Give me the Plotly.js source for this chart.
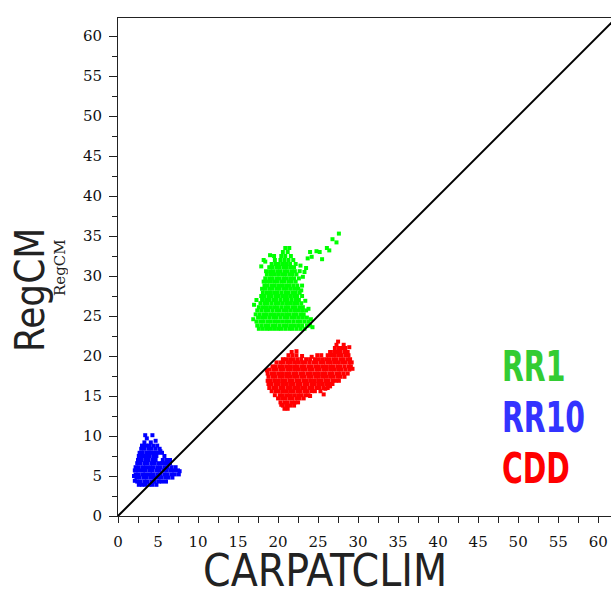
<!DOCTYPE html>
<html><head><meta charset="utf-8">
<script src="https://cdn.plot.ly/plotly-3.0.1.min.js"></script>
<style>html,body{margin:0;padding:0;background:#fff}#chart{width:611px;height:592px}</style>
</head><body><div id="chart"></div>
<script>
const tickVals = [0,5,10,15,20,25,30,35,40,45,50,55,60];
const tickText = ["0","5","10","15","20","25","30","35","40","45","50","55","60"];
const diagX = [0, 62];
const diagY = [0, 62];

// RR1 (green) points, by row: y value and the x values in that row
const rr1RowY = [23.4,23.8,24.3,24.8,25.2,25.7,26.1,26.6,27.0,27.5,27.9,28.4,28.8,29.3,29.7,30.2,30.6,31.1,31.5,32.0,32.5,33.0,33.5];
const rr1RowX = [
 [17.6,18.1,18.6,19.0,19.5,20.0,20.4,20.9,21.4,21.8,22.3,22.8,23.3],
 [17.4,17.9,18.4,18.8,19.3,19.7,20.2,20.7,21.1,21.6,22.0,22.5,23.0,23.6,24.0],
 [17.3,17.8,18.2,18.7,19.1,19.6,20.0,20.5,21.0,21.4,21.9,22.4,22.8,23.3,23.8],
 [17.5,18.0,18.4,18.9,19.4,19.8,20.3,20.8,21.2,21.7,22.1,22.6,23.1,23.6],
 [17.2,17.7,18.2,18.6,19.1,19.5,20.0,20.5,21.0,21.4,21.9,22.3,22.8,23.2],
 [17.4,17.9,18.4,18.8,19.3,19.8,20.2,20.7,21.1,21.6,22.1,22.5,23.0,23.5],
 [17.6,18.1,18.5,19.0,19.5,19.9,20.4,20.9,21.3,21.8,22.2,22.7,23.1],
 [17.8,18.3,18.7,19.2,19.7,20.1,20.6,21.1,21.5,22.0,22.4,22.9],
 [17.3,18.0,18.5,18.9,19.4,19.8,20.3,20.8,21.2,21.7,22.2,22.6],
 [17.9,18.3,18.8,19.2,19.7,20.1,20.6,21.0,21.5,22.0,22.4,23.0],
 [18.1,18.6,19.0,19.5,19.9,20.4,20.9,21.3,21.8,22.2,22.7],
 [18.0,18.4,18.9,19.3,19.8,20.2,20.7,21.1,21.6,22.1,22.5],
 [18.3,18.7,19.2,19.6,20.1,20.5,21.0,21.4,21.9,22.4,23.0],
 [18.2,18.6,19.0,19.5,19.9,20.4,20.8,21.3,21.7,22.2],
 [18.4,18.9,19.3,19.8,20.2,20.7,21.1,21.6,22.0,22.6],
 [18.6,19.1,19.5,20.0,20.5,20.9,21.4,21.8,22.3],
 [18.5,19.0,19.4,19.9,20.3,20.8,21.2,21.7,22.1],
 [18.9,19.3,19.8,20.2,20.7,21.1,21.6,22.0],
 [19.2,19.7,20.1,20.6,21.0,21.5,22.2],
 [18.2,19.6,20.3,20.8,21.3,21.9],
 [19.5,20.4,20.9,21.6],
 [20.6,21.2],
 [20.9,21.4]
];
const rr1ExtraX = [23.1,23.3,23.7,24.2,24.8,25.2,25.5,26.1,26.4,26.8,27.3,27.6,22.8,23.5,24.0,17.9,18.4,22.7,23.4,23.8,24.1,22.9,17.0,16.9,19.0,24.3];
const rr1ExtraY = [29.9,30.5,32.2,32.4,33.1,33.0,32.1,33.5,33.2,34.6,34.2,35.3,31.3,31.0,33.0,31.2,31.8,30.6,26.9,25.9,24.6,28.2,26.4,24.6,32.6,23.6];

// RR10 (blue)
const rr10RowY = [3.9,4.3,4.8,5.2,5.7,6.1,6.6,7.0,7.5,7.9,8.4,8.8,9.2,9.7,10.1];
const rr10RowX = [
 [2.6,3.0,3.4,3.9,4.3,4.8],
 [2.4,2.8,3.3,3.7,4.2,4.6,5.1,5.5,6.0],
 [2.3,2.7,3.2,3.6,4.1,4.5,5.0,5.4,5.9,6.3,6.8],
 [2.2,2.6,3.1,3.5,4.0,4.4,4.9,5.3,5.8,6.2,6.7,7.1,7.6],
 [2.1,2.5,3.0,3.4,3.9,4.3,4.8,5.2,5.7,6.1,6.6,7.0,7.5],
 [2.2,2.6,3.1,3.5,4.0,4.4,4.9,5.3,5.8,6.2,6.7,7.2],
 [2.4,2.8,3.3,3.7,4.2,4.6,5.1,5.5,6.0,6.5],
 [2.5,2.9,3.4,3.8,4.3,4.7,5.6,6.1],
 [2.6,3.0,3.5,3.9,4.4,4.8,5.8],
 [2.7,3.1,3.6,4.0,4.5,5.0,5.5],
 [2.9,3.3,3.8,4.2,4.7,5.2],
 [3.0,3.5,3.9,4.4,4.9],
 [3.3,4.1],
 [3.6],
 [3.4,4.3]
];
const rr10ExtraX = [2.0,2.1,4.7,5.3,6.5,7.7];
const rr10ExtraY = [5.0,4.4,9.4,8.1,7.0,5.6];

// CDD (red)
const cddRowY = [13.4,13.8,14.2,14.7,15.1,15.6,16.0,16.5,16.9,17.4,17.8,18.3,18.7,19.2,19.6,20.1,20.5,21.0,21.4];
const cddRowX = [
 [20.8,21.2],
 [20.6,21.1,21.5,22.0],
 [20.3,20.8,21.2,21.7,22.1,22.5],
 [20.0,20.5,20.9,21.4,21.8,22.3,22.7,23.2],
 [19.6,20.2,20.6,21.1,21.5,22.0,22.5,22.9,23.4,23.8],
 [19.2,19.7,20.1,20.6,21.0,21.5,21.9,22.4,22.8,23.3,23.7,24.2,24.6,25.3],
 [18.9,19.4,19.8,20.3,20.7,21.2,21.6,22.1,22.5,23.0,23.4,23.9,24.3,24.8,25.2,25.7,26.2],
 [18.8,19.2,19.7,20.1,20.6,21.0,21.5,21.9,22.4,22.8,23.3,23.7,24.2,24.6,25.1,25.5,26.0,26.4,26.8],
 [18.7,19.1,19.6,20.0,20.5,20.9,21.4,21.8,22.3,22.7,23.2,23.6,24.1,24.5,25.0,25.4,25.9,26.3,26.8,27.2,27.6],
 [18.8,19.3,19.7,20.2,20.6,21.1,21.5,22.0,22.4,22.9,23.3,23.8,24.2,24.7,25.1,25.6,26.0,26.5,26.9,27.4,27.8,28.3],
 [18.7,19.2,19.6,20.1,20.5,21.0,21.4,21.9,22.3,22.8,23.2,23.7,24.1,24.6,25.0,25.5,25.9,26.4,26.8,27.3,27.7,28.2,28.7],
 [18.9,19.4,19.8,20.3,20.7,21.2,21.6,22.1,22.5,23.0,23.4,23.9,24.3,24.8,25.2,25.7,26.1,26.6,27.0,27.5,27.9,28.4,28.9],
 [19.3,19.7,20.2,20.6,21.1,21.5,22.0,22.4,22.9,23.3,23.8,24.2,24.7,25.1,25.6,26.0,26.5,26.9,27.4,27.8,28.3,28.8,29.1],
 [19.8,20.3,20.7,21.2,21.6,22.1,22.5,23.0,23.4,23.9,24.4,24.8,25.3,25.7,26.2,26.6,27.1,27.5,28.0,28.4,28.9,29.2],
 [20.6,21.0,21.5,21.9,22.4,22.9,23.5,24.0,24.6,25.0,25.5,26.0,26.4,26.9,27.3,27.8,28.2,28.7,29.0],
 [21.3,21.8,22.3,24.9,25.4,26.2,26.6,27.0,27.5,27.9,28.4,28.8],
 [21.7,26.5,27.0,27.4,27.8,28.3,28.7],
 [27.1,27.6,28.0,28.4],
 [27.3,28.2]
];
const cddExtraX = [22.3,23.0,24.2,28.9,27.5,20.4,25.7,26.5,29.3,18.6,24.0,25.9];
const cddExtraY = [20.6,20.0,19.9,21.1,21.8,13.9,15.2,16.2,18.4,18.2,15.0,15.9];

const seriesLabels = ["RR1", "RR10", "CDD"];
const xTitle = "CARPATCLIM";
const yTitle = "RegCM";
const ySub = "RegCM";

function flatten(rowY, rowX, extraX, extraY) {
  const xs = [], ys = [];
  rowY.forEach((y, i) => rowX[i].forEach(x => { xs.push(x); ys.push(y); }));
  (extraX || []).forEach((x, i) => { xs.push(x); ys.push(extraY[i]); });
  return {xs, ys};
}
const g = flatten(rr1RowY, rr1RowX, rr1ExtraX, rr1ExtraY);
const b = flatten(rr10RowY, rr10RowX, rr10ExtraX, rr10ExtraY);
const r = flatten(cddRowY, cddRowX, cddExtraX, cddExtraY);

function pts(d, color) {
  return {type: 'scatter', mode: 'markers', x: d.xs, y: d.ys, hoverinfo: 'skip',
    marker: {symbol: 'square', size: 4, color: color, line: {width: 0}}};
}
const traces = [
  pts(g, 'rgb(0,255,0)'),
  pts(r, 'rgb(255,0,0)'),
  pts(b, 'rgb(0,0,255)'),
  {type: 'scatter', mode: 'lines', x: diagX, y: diagY, line: {color: '#000', width: 2}, hoverinfo: 'skip'}
];

const tickFont = {family: 'DejaVu Serif, Liberation Serif, serif', size: 15, color: '#111'};
const narrow = '"DejaVu Sans Condensed", "Liberation Sans", Arial, sans-serif';
function px2x(p) { return (p - 118) / 493; }
function py2y(p) { return (516 - p) / 498; }

const layout = {
  width: 611, height: 592,
  margin: {l: 118, r: 0, t: 18, b: 76, pad: 0},
  paper_bgcolor: '#fff', plot_bgcolor: '#fff',
  showlegend: false,
  xaxis: {range: [0, 61.6], showgrid: false, zeroline: false, showline: true, linecolor: '#222', linewidth: 1,
    mirror: true, tickmode: 'array', tickvals: tickVals, ticktext: tickText, ticks: 'outside', ticklen: 6, tickcolor: '#222',
    tickfont: tickFont, ticklabelstandoff: 6,
    minor: {dtick: 2.5, ticks: 'outside', ticklen: 6, tickcolor: '#222', showgrid: false}},
  yaxis: {range: [0, 62.25], showgrid: false, zeroline: false, showline: true, linecolor: '#222', linewidth: 1,
    tickmode: 'array', tickvals: tickVals, ticktext: tickText, ticks: 'outside', ticklen: 8, tickcolor: '#222',
    tickfont: tickFont, ticklabelstandoff: 4,
    minor: {dtick: 2.5, ticks: 'outside', ticklen: 5, tickcolor: '#222', showgrid: false}},
  annotations: [
    {text: xTitle, xref: 'paper', yref: 'paper', x: px2x(325), y: py2y(570), xanchor: 'center', yanchor: 'middle',
      height: 40, showarrow: false, font: {family: narrow, size: 44, color: '#222'}},
    {text: yTitle, xref: 'paper', yref: 'paper', x: px2x(30), y: py2y(290), xanchor: 'center', yanchor: 'middle',
      textangle: -90, showarrow: false, font: {family: narrow, size: 40, color: '#222'}},
    {text: ySub, xref: 'paper', yref: 'paper', x: px2x(60), y: py2y(268), xanchor: 'center', yanchor: 'middle',
      height: 16, textangle: -90, showarrow: false, font: {family: 'DejaVu Serif, Liberation Serif, serif', size: 15, color: '#222'}},
    {text: '<b>' + seriesLabels[0] + '</b>', xref: 'paper', yref: 'paper', x: px2x(500), y: py2y(366), xanchor: 'left', yanchor: 'middle',
      showarrow: false, font: {family: narrow, size: 42, color: 'rgb(51,204,51)'}},
    {text: '<b>' + seriesLabels[1] + '</b>', xref: 'paper', yref: 'paper', x: px2x(500), y: py2y(417), xanchor: 'left', yanchor: 'middle',
      showarrow: false, font: {family: narrow, size: 42, color: 'rgb(51,51,255)'}},
    {text: '<b>' + seriesLabels[2] + '</b>', xref: 'paper', yref: 'paper', x: px2x(500), y: py2y(468), xanchor: 'left', yanchor: 'middle',
      showarrow: false, font: {family: narrow, size: 42, color: 'rgb(255,0,0)'}}
  ]
};
Plotly.newPlot('chart', traces, layout, {displayModeBar: false, staticPlot: true}).then(gd => {
  // condense the bold series labels horizontally to match the narrow face of the original
  const texts = gd.querySelectorAll('.annotation-text');
  texts.forEach(t => {
    if (seriesLabels.indexOf(t.textContent) >= 0) {
      t.style.transformBox = 'fill-box';
      t.style.transformOrigin = 'left center';
      t.style.transform = 'scaleX(0.75)';
    }
  });
});
</script>
</body></html>
